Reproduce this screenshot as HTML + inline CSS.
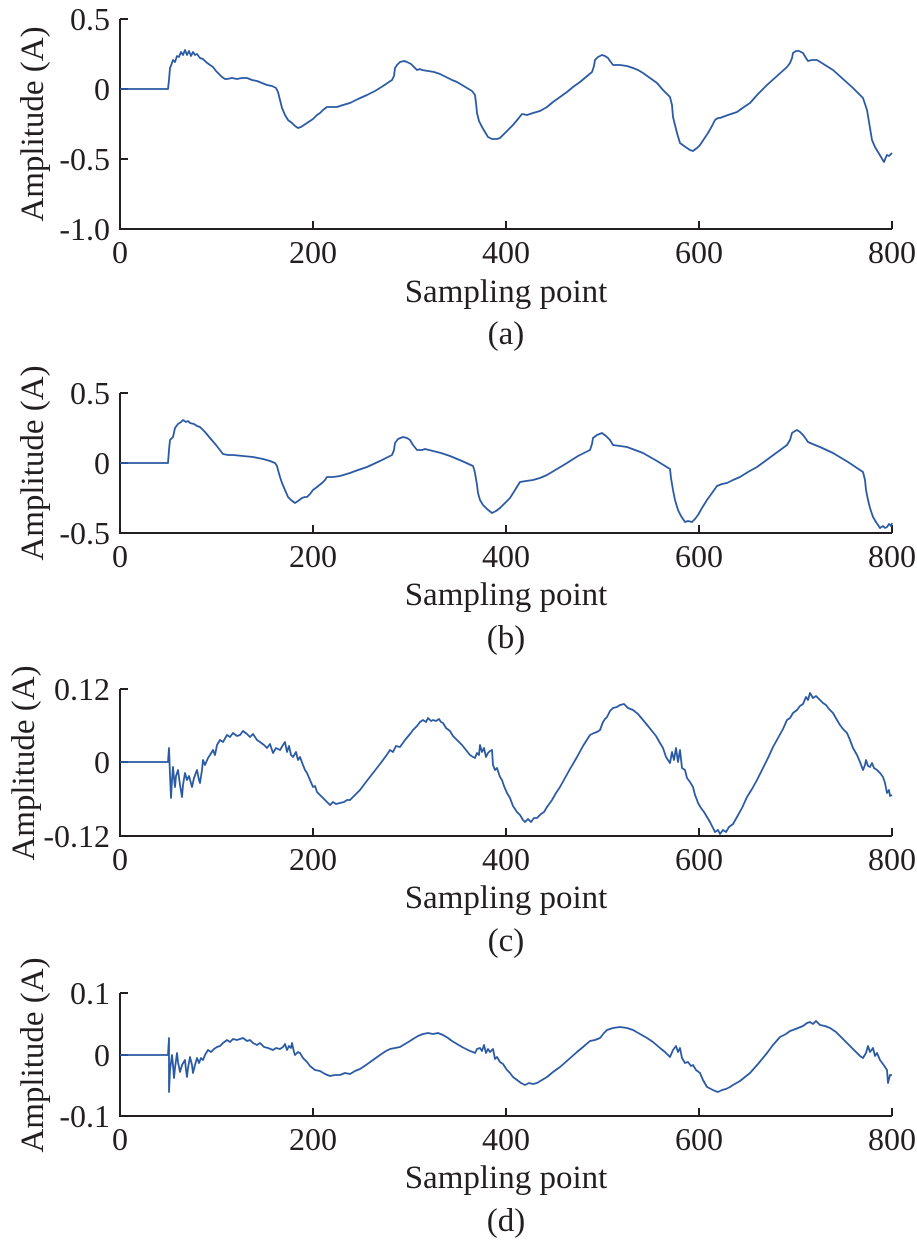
<!DOCTYPE html>
<html>
<head>
<meta charset="utf-8">
<style>
html,body{margin:0;padding:0;background:#fff;}
svg{display:block;}
text{font-family:"Liberation Serif","Times New Roman",serif;fill:#231f20;}
.tk{font-size:32px;}
.lb{font-size:33px;}
</style>
</head>
<body>
<svg width="917" height="1242" viewBox="0 0 917 1242" xmlns="http://www.w3.org/2000/svg">
<g fill="none" stroke="#231f20" stroke-width="2">
  <!-- (a) -->
  <path d="M120,19 V229 H892"/>
  <path d="M120,19 h8 M120,89 h8 M120,159 h8 M313,229 v-8 M506,229 v-8 M699,229 v-8 M892,229 v-8"/>
  <!-- (b) -->
  <path d="M120,393 V533 H892"/>
  <path d="M120,393 h8 M120,463 h8 M313,533 v-8 M506,533 v-8 M699,533 v-8 M892,533 v-8"/>
  <!-- (c) -->
  <path d="M120,689 V836 H892"/>
  <path d="M120,689 h8 M120,762 h8 M313,836 v-8 M506,836 v-8 M699,836 v-8 M892,836 v-8"/>
  <!-- (d) -->
  <path d="M120,993 V1116 H892"/>
  <path d="M120,993 h8 M120,1055 h8 M313,1116 v-8 M506,1116 v-8 M699,1116 v-8 M892,1116 v-8"/>
</g>

<g fill="none" stroke="#2b5aa5" stroke-width="1.8" stroke-linejoin="round">
<polyline points="120,89 168,89 169,80 170,68 172,63 173,60 175,62 177,56 179,57 181,52 183,55 185,50 187,55 189,51 191,56 193,52 195,55 197,54 200,58 203,59 206,62 210,65 213,67 216,71 219,74 222,77 225,79 227,79 232,78 237,79 242,78 247,78 252,80 257,81 262,83 267,85 272,86 276,88 278,92 280,100 282,108 285,115 288,120 292,123 295,126 298,128 301,127 304,125 307,123 310,121 313,119 317,115 320,113 323,110 327,107 332,107 337,107 343,105 350,103 358,99 367,95 375,91 383,86 392,80 394,76 395,68 397,65 400,62 404,61 407,62 411,64 414,67 417,70 420,69 422,70 428,71 434,72 440,74 446,77 452,80 457,82 462,85 467,88 472,91 475,95 476,103 477,113 479,121 482,127 485,132 488,137 492,139 497,139 500,138 503,135 508,130 513,125 518,119 522,114 527,115 533,113 540,111 547,107 553,102 560,97 567,92 573,87 580,82 586,77 592,72 594,66 595,60 598,57 602,55 605,56 608,58 610,61 613,65 617,65 620,65 627,66 633,68 638,70 643,73 650,78 657,83 663,90 670,97 672,105 673,117 675,125 677,133 680,143 684,146 687,148 690,150 693,151 697,148 700,145 704,139 708,133 712,126 715,120 718,118 720,118 728,115 737,112 744,107 750,103 758,94 767,85 777,76 787,67 790,63 792,58 793,53 796,51 799,51 803,53 806,58 808,61 812,60 817,60 825,65 833,70 843,79 853,88 858,93 863,98 865,104 867,110 869,122 872,140 875,147 878,152 881,157 884,162 886,157 887,155 889,156 892,153"/>
<polyline points="120,463 168,463 169,450 170,440 172,438 173,437 175,428 178,424 181,422 183,420 186,422 188,421 190,423 194,424 197,426 200,427 205,432 210,438 216,445 223,454 228,455 233,455 243,456 253,457 263,459 270,461 275,463 277,466 278,470 280,477 282,483 285,490 288,497 291,500 295,503 298,501 302,498 305,497 307,497 310,494 313,490 317,487 322,483 325,480 327,477 333,477 340,476 350,473 358,470 367,467 380,461 392,455 394,450 395,443 398,439 403,437 407,438 410,440 413,445 417,450 422,450 425,449 433,451 441,453 450,456 462,461 473,466 474,469 475,473 477,485 478,493 480,500 483,505 487,509 492,513 496,511 500,508 505,503 510,498 515,490 520,482 526,481 533,480 540,478 547,475 557,469 567,463 578,456 590,450 592,444 593,438 597,435 602,433 606,436 610,440 613,445 620,446 627,447 635,450 643,453 657,461 670,469 671,478 673,490 675,500 678,510 681,516 685,522 688,521 692,522 695,519 698,515 702,508 707,500 712,493 717,486 722,484 727,483 733,480 740,477 748,472 757,467 772,456 787,445 790,440 792,433 795,431 797,430 800,432 803,435 806,439 808,442 815,445 820,447 833,453 848,462 863,472 865,480 866,490 868,500 870,508 873,517 876,522 880,528 883,526 885,528 887,527 889,524 891,526 892,523"/>
<polyline points="120,762 168,762 169,748 170,775 171,798 172,780 173,767 174,778 175,787 176,776 178,770 180,785 182,797 183,785 185,773 187,780 189,776 192,787 194,778 197,770 199,780 200,783 202,770 203,760 205,765 208,758 210,755 213,750 215,755 217,745 220,740 223,742 227,735 230,737 233,733 237,736 240,735 243,731 247,734 250,737 253,734 257,740 260,742 264,745 267,748 270,744 273,753 276,748 280,750 283,745 285,742 287,752 289,746 291,755 293,757 296,752 298,760 300,757 303,765 305,770 307,773 310,780 313,787 315,786 317,792 320,795 325,800 330,805 333,802 336,804 340,803 344,802 347,800 350,800 355,795 360,790 366,782 373,773 380,764 386,756 390,750 393,752 396,746 400,747 405,740 410,734 413,730 417,726 420,722 423,720 426,722 428,718 431,721 433,720 436,721 439,719 441,722 443,723 446,728 450,731 453,736 457,740 462,745 466,750 470,755 473,757 475,758 477,753 479,755 480,745 482,752 484,748 486,757 488,753 490,751 492,750 493,765 495,770 497,768 500,777 502,780 504,786 507,793 510,798 513,806 517,812 520,815 523,820 525,822 528,819 531,822 534,818 537,818 541,814 544,812 547,807 552,800 556,793 560,787 565,778 570,769 577,757 583,746 590,735 594,733 597,732 600,730 603,722 605,719 607,717 610,711 613,708 617,707 620,705 624,704 628,708 633,710 638,714 643,720 648,726 652,731 656,736 660,743 663,748 666,757 668,760 670,763 672,752 674,760 676,748 678,762 680,750 682,768 685,770 687,778 690,782 693,787 695,795 697,800 698,803 701,808 704,812 707,817 710,822 713,828 715,832 718,830 720,834 723,830 726,832 729,827 733,824 737,817 742,808 747,797 752,789 757,780 762,770 768,758 773,747 778,738 783,729 787,720 790,718 793,713 797,710 800,706 803,704 806,697 808,700 810,693 813,698 816,696 820,700 823,703 826,705 829,709 833,713 837,720 840,725 843,729 847,733 850,740 853,748 857,755 860,762 863,770 865,765 866,760 868,766 870,767 872,763 874,768 877,770 880,773 883,777 885,783 887,793 889,790 890,796 892,795"/>
<polyline points="120,1055 168,1055 169,1038 169,1092 170,1070 172,1055 173,1065 174,1078 175,1068 177,1053 178,1062 180,1072 182,1065 185,1060 186,1070 187,1077 188,1068 190,1057 192,1065 193,1073 195,1065 197,1058 199,1063 201,1058 203,1060 205,1055 208,1050 211,1052 214,1049 217,1047 220,1046 223,1043 227,1040 230,1042 233,1039 237,1040 240,1039 243,1038 247,1041 250,1040 253,1043 257,1045 260,1043 264,1047 268,1048 273,1050 276,1048 280,1049 283,1047 285,1044 287,1050 289,1046 291,1048 292,1043 294,1052 295,1055 298,1052 300,1053 303,1058 307,1062 310,1066 315,1070 320,1071 325,1074 330,1076 335,1075 340,1075 345,1073 350,1074 355,1071 360,1069 366,1065 373,1060 380,1055 386,1051 390,1049 395,1048 400,1047 405,1044 410,1041 413,1039 418,1036 423,1034 428,1033 433,1034 438,1033 443,1035 448,1038 452,1041 457,1044 462,1047 466,1049 470,1051 473,1052 475,1053 477,1049 480,1048 482,1051 484,1045 486,1053 488,1049 490,1052 493,1049 495,1059 497,1057 500,1062 503,1064 507,1070 510,1073 513,1077 517,1080 521,1083 525,1085 529,1083 533,1084 537,1083 542,1080 547,1077 553,1072 560,1067 568,1060 577,1052 583,1047 590,1041 595,1040 600,1038 604,1033 607,1030 613,1028 620,1027 627,1028 633,1030 640,1034 647,1038 653,1042 660,1048 665,1052 670,1057 673,1050 676,1046 678,1052 680,1048 682,1058 685,1063 688,1062 691,1066 693,1065 696,1070 700,1073 703,1080 707,1087 711,1089 715,1091 718,1092 722,1090 726,1089 730,1087 733,1085 740,1081 750,1073 758,1064 767,1053 773,1045 780,1037 786,1034 790,1031 793,1030 798,1028 803,1026 807,1023 810,1022 813,1024 816,1021 820,1025 825,1026 830,1028 836,1032 841,1037 847,1043 852,1048 857,1053 860,1056 863,1058 866,1053 868,1046 870,1052 873,1048 875,1056 877,1053 880,1060 883,1064 887,1070 888,1083 890,1075 892,1075"/>
</g>

<!-- Y tick labels -->
<g class="tk" text-anchor="end">
  <text x="110" y="30">0.5</text>
  <text x="110" y="100">0</text>
  <text x="110" y="170">-0.5</text>
  <text x="110" y="240">-1.0</text>

  <text x="110" y="404">0.5</text>
  <text x="110" y="474">0</text>
  <text x="110" y="544">-0.5</text>

  <text x="110" y="700">0.12</text>
  <text x="110" y="773">0</text>
  <text x="110" y="847">-0.12</text>

  <text x="110" y="1004">0.1</text>
  <text x="110" y="1066">0</text>
  <text x="110" y="1127">-0.1</text>
</g>

<!-- X tick labels -->
<g class="tk" text-anchor="middle">
  <text x="120" y="263">0</text><text x="313" y="263">200</text><text x="506" y="263">400</text><text x="699" y="263">600</text><text x="892" y="263">800</text>
  <text x="120" y="567">0</text><text x="313" y="567">200</text><text x="506" y="567">400</text><text x="699" y="567">600</text><text x="892" y="567">800</text>
  <text x="120" y="870">0</text><text x="313" y="870">200</text><text x="506" y="870">400</text><text x="699" y="870">600</text><text x="892" y="870">800</text>
  <text x="120" y="1150">0</text><text x="313" y="1150">200</text><text x="506" y="1150">400</text><text x="699" y="1150">600</text><text x="892" y="1150">800</text>
</g>

<!-- Axis labels and captions -->
<g class="lb" text-anchor="middle">
  <text x="506" y="302">Sampling point</text>
  <text x="506" y="344">(a)</text>
  <text x="506" y="605">Sampling point</text>
  <text x="506" y="648">(b)</text>
  <text x="506" y="908">Sampling point</text>
  <text x="506" y="951">(c)</text>
  <text x="506" y="1188">Sampling point</text>
  <text x="506" y="1231">(d)</text>

  <text transform="translate(43,124) rotate(-90)">Amplitude (A)</text>
  <text transform="translate(43,463) rotate(-90)">Amplitude (A)</text>
  <text transform="translate(34,763) rotate(-90)">Amplitude (A)</text>
  <text transform="translate(43,1055) rotate(-90)">Amplitude (A)</text>
</g>
</svg>
</body>
</html>
